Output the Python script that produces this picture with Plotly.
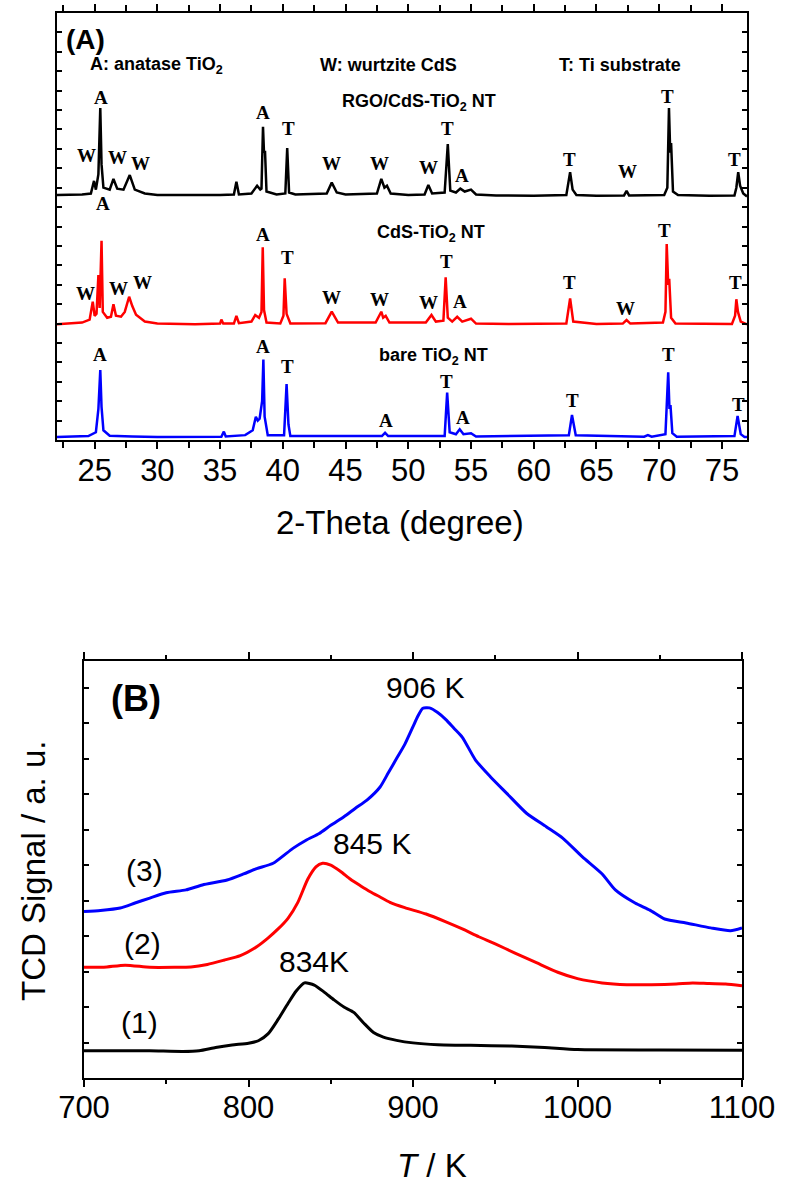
import plotly.graph_objects as go

# ---------------- Panel (A): XRD patterns ----------------
# 2-Theta (degree) / intensity (offset, a.u.) pairs for each pattern
rgo_cds_tio2_2theta = [22.0, 24.0, 24.7, 24.95, 25.1, 25.3, 25.45, 25.55, 25.7, 26.2, 26.5, 26.8,
                       27.3, 27.8, 28.2, 29.0, 30.0, 33.0, 35.0, 36.1, 36.3, 36.5, 37.5, 37.95,
                       38.2, 38.3, 38.42, 38.5, 38.58, 38.7, 39.5, 40.2, 40.35, 40.5, 41.0, 43.5,
                       43.9, 44.3, 45.0, 47.5, 47.85, 48.1, 48.3, 48.6, 50.0, 51.3, 51.6, 51.9,
                       52.9, 53.15, 53.35, 53.8, 54.15, 54.5, 55.0, 55.4, 57.0, 60.0, 62.6, 62.9,
                       63.1, 63.4, 65.0, 67.2, 67.4, 67.6, 70.4, 70.65, 70.78, 70.88, 70.95, 71.1,
                       71.5, 74.0, 76.0, 76.15, 76.3, 76.45, 76.7, 77.0]
rgo_cds_tio2_int = [12.62, 12.65, 12.7, 13.35, 12.9, 13.7, 17.1, 14.2, 13.0, 12.9, 13.45, 12.95,
                    12.9, 13.65, 12.9, 12.7, 12.62, 12.6, 12.62, 12.65, 13.3, 12.65, 12.7, 13.1,
                    12.9, 12.95, 16.14, 14.8, 14.9, 12.8, 12.65, 12.7, 15.04, 12.75, 12.65, 12.7,
                    13.26, 12.75, 12.65, 12.7, 13.45, 13.0, 13.1, 12.7, 12.62, 12.65, 13.14, 12.7,
                    12.75, 15.25, 12.85, 12.75, 12.95, 12.8, 12.9, 12.65, 12.6, 12.58, 12.62, 13.8,
                    12.9, 12.62, 12.58, 12.6, 12.83, 12.6, 12.62, 13.0, 17.1, 14.8, 15.3, 12.8,
                    12.62, 12.58, 12.6, 13.0, 13.8, 13.1, 12.7, 12.55]

cds_tio2_2theta = [22.0, 23.5, 24.0, 24.6, 24.85, 25.0, 25.15, 25.3, 25.4, 25.55, 25.65, 26.0,
                   26.3, 26.5, 26.7, 27.1, 27.4, 27.75, 28.0, 28.3, 29.0, 30.0, 33.0, 35.0,
                   35.1, 35.25, 36.1, 36.3, 36.5, 37.5, 37.8, 38.1, 38.3, 38.4, 38.5, 38.7,
                   39.8, 40.05, 40.15, 40.3, 40.6, 43.4, 43.9, 44.4, 47.4, 47.85, 48.0, 48.2,
                   48.5, 51.4, 51.85, 52.2, 52.8, 52.98, 53.15, 53.5, 53.9, 54.3, 55.0, 55.4,
                   58.0, 62.6, 62.9, 63.15, 65.0, 67.1, 67.4, 67.7, 70.3, 70.5, 70.6, 70.72,
                   70.8, 70.95, 71.3, 75.8, 76.05, 76.15, 76.28, 76.5, 77.0]
cds_tio2_int = [5.96, 6.0, 6.05, 6.2, 7.13, 6.4, 6.5, 8.5, 6.8, 10.27, 6.6, 6.3,
                6.35, 7.0, 6.4, 6.35, 6.6, 7.38, 6.9, 6.45, 6.1, 6.0, 5.96, 6.0,
                6.2, 6.0, 6.0, 6.39, 6.02, 6.1, 6.44, 6.3, 6.6, 9.93, 6.7, 6.05,
                6.0, 6.4, 8.33, 6.5, 6.0, 6.02, 6.61, 6.05, 6.05, 6.61, 6.3, 6.4,
                6.05, 6.05, 6.44, 6.1, 6.15, 8.38, 6.3, 6.1, 6.35, 6.1, 6.25, 6.0,
                5.98, 6.0, 7.3, 6.1, 5.98, 6.0, 6.18, 6.0, 6.05, 6.6, 10.1, 8.0,
                8.3, 6.3, 6.0, 5.98, 6.4, 7.25, 6.6, 6.1, 5.96]

bare_tio2_2theta = [22.0, 24.5, 25.1, 25.3, 25.45, 25.55, 25.7, 26.2, 28.0, 30.0, 35.1, 35.3,
                    35.45, 37.0, 37.6, 37.85, 38.0, 38.15, 38.35, 38.45, 38.55, 38.65, 38.8, 40.1,
                    40.3, 40.45, 40.6, 47.9, 48.15, 48.4, 52.9, 53.1, 53.2, 53.3, 53.8, 54.1,
                    54.4, 55.0, 55.4, 62.8, 63.05, 63.15, 63.35, 68.8, 69.1, 69.4, 70.5, 70.72,
                    70.82, 70.9, 71.05, 71.4, 76.0, 76.25, 76.38, 76.5, 76.8, 77.0]
bare_tio2_int = [0.15, 0.2, 0.4, 1.6, 3.6, 1.7, 0.5, 0.22, 0.18, 0.15, 0.17, 0.43,
                 0.18, 0.25, 0.5, 1.2, 1.0, 1.1, 2.0, 4.15, 1.2, 0.8, 0.25, 0.25,
                 2.88, 0.8, 0.2, 0.2, 0.37, 0.2, 0.2, 2.44, 1.2, 0.4, 0.3, 0.55,
                 0.3, 0.35, 0.18, 0.25, 1.29, 0.9, 0.25, 0.17, 0.25, 0.17, 0.3, 3.49,
                 1.6, 1.8, 0.35, 0.17, 0.2, 1.24, 0.8, 0.3, 0.15, 0.15]

# Phase labels (letter, 2-Theta, height) for each pattern
rgo_phase_labels = [("A", 25.51, 17.67), ("W", 24.32, 14.68), ("W", 26.79, 14.58), ("W", 28.63, 14.27),
                    ("A", 25.67, 12.16), ("A", 38.45, 16.85), ("T", 40.45, 16.07), ("W", 43.88, 14.22),
                    ("W", 47.72, 14.27), ("W", 51.63, 14.06), ("T", 53.15, 16.07), ("A", 54.27, 13.65),
                    ("T", 62.89, 14.43), ("W", 67.45, 13.81), ("T", 70.64, 17.72), ("T", 76.0, 14.43)]
cds_phase_labels = [("W", 24.24, 7.57), ("W", 26.87, 7.83), ("W", 28.79, 8.09), ("A", 38.45, 10.61),
                    ("T", 40.37, 9.38), ("W", 43.88, 7.32), ("W", 47.72, 7.26), ("W", 51.63, 7.06),
                    ("T", 53.07, 9.22), ("A", 54.11, 7.16), ("T", 62.89, 8.14), ("W", 67.29, 6.75),
                    ("T", 70.40, 10.77), ("T", 76.08, 8.14)]
bare_phase_labels = [("A", 25.43, 4.43), ("A", 38.45, 4.84), ("T", 40.37, 3.81), ("A", 48.2, 0.98),
                     ("T", 53.07, 2.99), ("A", 54.35, 1.18), ("T", 63.13, 2.01), ("T", 70.72, 4.43),
                     ("T", 76.31, 1.85)]

# Sample names and legend text: (text, 2-Theta, height)
sample_names = [("RGO/CdS-TiO<sub>2</sub> NT", 50.83, 17.41),
                ("CdS-TiO<sub>2</sub> NT", 51.79, 10.66),
                ("bare TiO<sub>2</sub> NT", 52.03, 4.28)]
phase_key = [("A: anatase TiO<sub>2</sub>", 29.9, 19.32),
             ("W: wurtzite CdS", 48.44, 19.32),
             ("T: Ti substrate", 66.89, 19.32)]

# ---------------- Panel (B): TPD profiles ----------------
temp_1 = [700, 720, 740, 760, 770, 780, 790, 800, 806, 812, 818, 824, 829, 834, 840, 846, 852, 858,
          864, 870, 876, 882, 890, 900, 915, 935, 960, 980, 1000, 1050, 1100]
tcd_1 = [0.77, 0.77, 0.77, 0.75, 0.77, 0.86, 0.93, 0.98, 1.05, 1.25, 1.65, 2.1, 2.45, 2.68, 2.62,
         2.42, 2.2, 2.0, 1.85, 1.55, 1.28, 1.15, 1.06, 0.99, 0.94, 0.92, 0.90, 0.86, 0.80, 0.79, 0.78]

temp_2 = [700, 712, 725, 740, 755, 765, 775, 785, 795, 805, 812, 818, 824, 830, 836, 841, 845, 850,
          856, 862, 868, 874, 880, 886, 895, 908, 920, 930, 940, 950, 962, 975, 988, 1000, 1015,
          1030, 1045, 1060, 1070, 1080, 1090, 1100]
tcd_2 = [3.12, 3.12, 3.18, 3.12, 3.12, 3.13, 3.2, 3.32, 3.45, 3.7, 3.95, 4.2, 4.5, 4.95, 5.6, 5.95,
         6.05, 6.0, 5.82, 5.6, 5.42, 5.25, 5.1, 4.95, 4.8, 4.62, 4.4, 4.2, 3.98, 3.78, 3.52, 3.25,
         2.98, 2.8, 2.68, 2.63, 2.63, 2.65, 2.68, 2.66, 2.65, 2.6]

temp_3 = [700, 710, 722, 731, 740, 750, 762, 772, 787, 797, 805, 815, 827, 835, 843, 850, 858, 865,
          872, 880, 885, 890, 895, 900, 903, 906, 910, 915, 920, 925, 930, 938, 947, 957, 969, 981,
          991, 1003, 1015, 1023, 1035, 1044, 1053, 1066, 1081, 1093, 1100]
tcd_3 = [4.69, 4.72, 4.79, 4.93, 5.07, 5.22, 5.3, 5.44, 5.58, 5.75, 5.9, 6.05, 6.47, 6.7, 6.89,
         7.12, 7.36, 7.6, 7.83, 8.2, 8.6, 9.0, 9.4, 9.9, 10.2, 10.42, 10.43, 10.3, 10.1, 9.85, 9.6,
         8.96, 8.49, 8.02, 7.46, 7.08, 6.76, 6.23, 5.75, 5.3, 4.93, 4.73, 4.48, 4.37, 4.23, 4.15, 4.23]

# Peak temperature labels and curve numbers: (text, T, signal)
peak_labels = [("906 K", 907, 10.99), ("845 K", 875, 6.62), ("834K", 840, 3.27)]
curve_numbers = [("(3)", 737, 5.86), ("(2)", 735.4, 3.8), ("(1)", 734, 1.55)]

BLACK, RED, BLUE = "#000000", "#ff0000", "#0000ff"
SANS = "Arial, Liberation Sans, sans-serif"
SERIF = "Times New Roman, Liberation Serif, serif"

W, H = 787, 1183


def px_x(p):
    return p / W


def px_y(p):
    return 1 - p / H


def label(text, x, y, xref, yref, family, size, angle=0):
    return dict(text=text, x=x, y=y, xref=xref, yref=yref, showarrow=False,
                xanchor="center", yanchor="middle", textangle=angle,
                font=dict(family=family, size=size, color="black"))


fig = go.Figure()

for xs, ys, col in [(rgo_cds_tio2_2theta, rgo_cds_tio2_int, BLACK),
                    (cds_tio2_2theta, cds_tio2_int, RED),
                    (bare_tio2_2theta, bare_tio2_int, BLUE)]:
    fig.add_trace(go.Scatter(x=xs, y=ys, mode="lines", line=dict(color=col, width=2.5),
                             xaxis="x", yaxis="y", showlegend=False, hoverinfo="skip"))

for xs, ys, col in [(temp_3, tcd_3, BLUE), (temp_2, tcd_2, RED), (temp_1, tcd_1, BLACK)]:
    fig.add_trace(go.Scatter(x=xs, y=ys, mode="lines",
                             line=dict(color=col, width=3, shape="spline", smoothing=0.6),
                             xaxis="x2", yaxis="y2", showlegend=False, hoverinfo="skip"))

ann = []
for labels in (rgo_phase_labels, cds_phase_labels, bare_phase_labels):
    for t, x, y in labels:
        ann.append(label("<b>" + t + "</b>", x, y, "x", "y", SERIF, 19))
for t, x, y in sample_names + phase_key:
    ann.append(label("<b>" + t + "</b>", x, y, "x", "y", SANS, 18))
ann.append(label("<b>(A)</b>", px_x(85), px_y(40), "paper", "paper", SANS, 28))
ann.append(label("2-Theta (degree)", px_x(400), px_y(522), "paper", "paper", SANS, 33))

for t, x, y in peak_labels + curve_numbers:
    ann.append(label(t, x, y, "x2", "y2", SANS, 30))
ann.append(label("<b>(B)</b>", px_x(136), px_y(698), "paper", "paper", SANS, 36))
ann.append(label("<i>T</i> / K", px_x(432), px_y(1165), "paper", "paper", SANS, 33))
ann.append(label("TCD Signal / a. u.", px_x(33), px_y(871), "paper", "paper", SANS, 33, -90))

axis_common = dict(showgrid=False, zeroline=False, showline=True, linecolor="black",
                   linewidth=2, mirror="allticks", tickcolor="black", tickwidth=1.5,
                   automargin=False)

fig.update_layout(
    width=W, height=H, margin=dict(l=0, r=0, t=0, b=0, autoexpand=False),
    paper_bgcolor="white", plot_bgcolor="white",
    xaxis=dict(domain=[px_x(57), px_x(747)], range=[22, 77], dtick=5, tick0=0, ticks="outside",
               ticklen=7, ticklabelstandoff=-5, tickfont=dict(family=SANS, size=31, color="black"),
               minor=dict(dtick=2.5, ticks="outside", ticklen=6, tickcolor="black", tickwidth=1.5),
               anchor="y", **axis_common),
    yaxis=dict(domain=[px_y(440), px_y(13)], range=[0, 22], dtick=1, ticks="inside", ticklen=5,
               showticklabels=False, anchor="x", **axis_common),
    xaxis2=dict(domain=[px_x(84), px_x(742)], range=[700, 1100], dtick=100, ticks="outside",
                ticklen=7, ticklabelstandoff=-6, tickfont=dict(family=SANS, size=31, color="black"),
                minor=dict(dtick=50, ticks="outside", ticklen=4, tickcolor="black", tickwidth=1.5),
                anchor="y2", **axis_common),
    yaxis2=dict(domain=[px_y(1078), px_y(661)], range=[0, 11.75], dtick=1, ticks="inside",
                ticklen=5, showticklabels=False, anchor="x2", **axis_common),
    annotations=ann,
)

fig.write_html("out.html")
